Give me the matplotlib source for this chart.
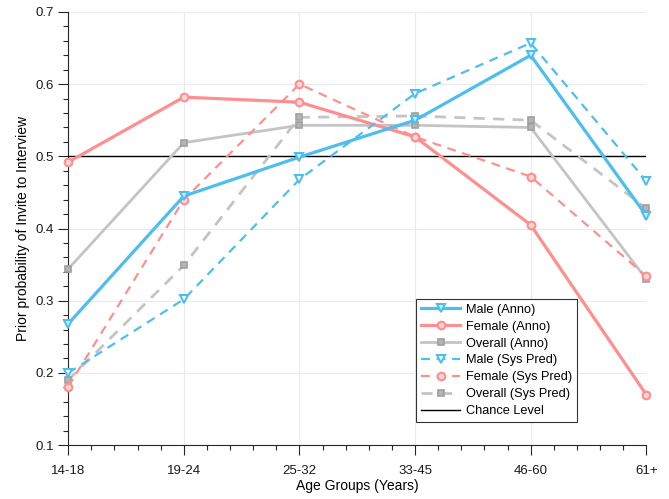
import matplotlib
matplotlib.use("Agg")
import matplotlib.pyplot as plt
from matplotlib.ticker import MultipleLocator, AutoMinorLocator

plt.rcParams['font.family'] = ['Liberation Sans', 'DejaVu Sans']

age_groups = ["14-18", "19-24", "25-32", "33-45", "46-60", "61+"]
male_anno = [0.268, 0.445, 0.499, 0.550, 0.640, 0.418]
female_anno = [0.492, 0.582, 0.575, 0.527, 0.405, 0.170]
overall_anno = [0.344, 0.519, 0.543, 0.543, 0.540, 0.330]
male_sys = [0.200, 0.302, 0.468, 0.587, 0.657, 0.466]
female_sys = [0.181, 0.440, 0.600, 0.527, 0.472, 0.334]
overall_sys = [0.190, 0.349, 0.554, 0.556, 0.550, 0.428]
chance = 0.5

blue = "#4DBEEE"
red = "#FF8F8F"
gray = "#C4C4C4"
gray_m = "#A0A0A0"

fig = plt.figure(figsize=(6.69, 4.99), dpi=100)
ax = fig.add_axes([0.102, 0.108, 0.864, 0.868])
x = list(range(len(age_groups)))

common = dict(clip_on=False)
ax.plot(x, male_anno, '-', color=blue, lw=2.3, marker='v', ms=6, mfc='#CDEEFB', mec=blue, mew=1.5, label='Male (Anno)', zorder=6, **common)
ax.plot(x, female_anno, '-', color=red, lw=2.3, marker='o', ms=5.5, mfc='#FFD6D6', mec=red, mew=1.5, label='Female (Anno)', zorder=5, **common)
ax.plot(x, overall_anno, '-', color=gray, lw=2.0, marker='s', ms=4.8, mfc='#B5B5B5', mec=gray_m, mew=1.2, label='Overall (Anno)', zorder=4, **common)
ax.plot(x, male_sys, '--', color=blue, lw=1.6, marker='v', ms=6, mfc='white', mec=blue, mew=1.5, label='Male (Sys Pred)', dashes=(4, 3), zorder=6, **common)
ax.plot(x, female_sys, '--', color=red, lw=1.6, marker='o', ms=5.5, mfc='#FFD6D6', mec=red, mew=1.5, label='Female (Sys Pred)', dashes=(4, 3), zorder=5, **common)
ax.plot(x, overall_sys, '--', color=gray, lw=2.0, marker='s', ms=4.8, mfc='#B5B5B5', mec=gray_m, mew=1.2, label='Overall (Sys Pred)', dashes=(4, 3), zorder=4, **common)
ax.axhline(chance, color='black', lw=1.0, label='Chance Level', zorder=3)

ax.set_xlim(0, len(age_groups) - 1)
ax.set_ylim(0.1, 0.7)
ax.set_xticks(x)
ax.set_xticklabels(age_groups)
ax.yaxis.set_major_locator(MultipleLocator(0.1))
ax.yaxis.set_minor_locator(MultipleLocator(0.02))
ax.xaxis.set_minor_locator(AutoMinorLocator(5))

ax.grid(True, which='major', color='#EBEBEB', lw=0.8, zorder=0)
for s in ['top', 'right']:
    ax.spines[s].set_visible(False)
for s in ['left', 'bottom']:
    ax.spines[s].set_color('#262626')
    ax.spines[s].set_linewidth(0.8)

ax.tick_params(which='major', direction='out', length=7, width=0.8, colors='#262626', labelsize=9.5, pad=7)
ax.tick_params(which='minor', direction='out', length=3.5, width=0.8, colors='#262626')
ax.tick_params(axis='y', which='major', pad=3)
ax.set_xlabel('Age Groups (Years)', fontsize=10, labelpad=2)
ax.set_ylabel('Prior probability of Invite to Interview', fontsize=10, labelpad=4)
for lab in ax.get_xticklabels() + ax.get_yticklabels():
    lab.set_color('#1a1a1a')

leg = ax.legend(loc='lower right', bbox_to_anchor=(0.881, 0.053), fontsize=9.2, frameon=True, fancybox=False,
                edgecolor='#333333', framealpha=1, handlelength=3.0, handletextpad=0.5,
                labelspacing=0.38, borderpad=0.4, borderaxespad=0)
leg.get_frame().set_linewidth(0.8)

fig.savefig('out.png', dpi=100)
